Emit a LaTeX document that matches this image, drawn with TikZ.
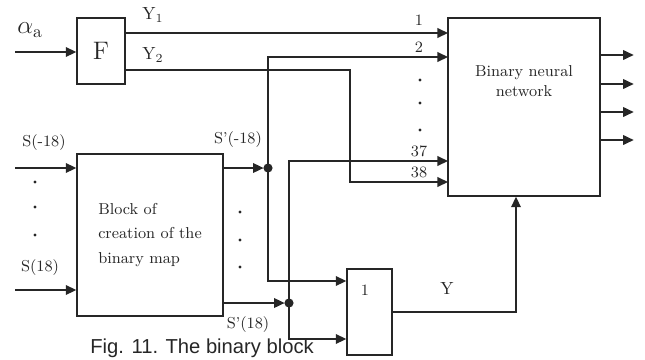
\documentclass[tikz,border=0pt]{standalone}
\usepackage{fontspec}
\usepackage{tikz}
\usetikzlibrary{arrows.meta,calc,positioning}
\newfontfamily\capfont{Liberation Sans}

\begin{document}
\begin{tikzpicture}[x=0.02cm, y=-0.02cm, font=\small, color=black!85,
    >={Triangle[length=6pt,width=5.5pt]}]
    \tikzset{
      blk/.style={draw, line width=0.8pt, inner sep=0pt},
      arrow/.style={->, line width=0.8pt},
      pin/.style={font=\small, inner sep=1pt},
      vdot/.style={radius=0.9pt}
    }
    \useasboundingbox (0,0) rectangle (645,359);

    % blocks
    \node[blk, minimum width=0.96cm, minimum height=1.32cm, font=\Large] (F) at (101,51) {F};
    \node[blk, minimum width=2.92cm, minimum height=3.24cm, align=left] (map) at (150,235)
      {Block of\\[3pt]creation of the\\[3pt]binary map};
    \node[blk, minimum width=3.04cm, minimum height=3.56cm] (bnn) at (524,107) {};
    \node[align=center] (bnntxt) at (524,81) {Binary neural\\network};
    \node[blk, minimum width=0.9cm, minimum height=1.72cm] (gate) at (369.5,312) {};
    \node (gatetxt) at (365,290) {1};

    % wiring points
    \coordinate (ain) at (15,52);
    \coordinate (smin) at (15,168);
    \coordinate (spin) at (15,290);
    \coordinate (in1) at (448,33);
    \coordinate (in2) at (448,57);
    \coordinate (in37) at (448,161);
    \coordinate (in38) at (448,182);
    \coordinate (bend) at (350,70);
    \coordinate (jm) at (268,168);
    \coordinate (jp) at (289,303);
    \coordinate (gin1) at (gate.west |- 0,281);
    \coordinate (gin2) at (gate.west |- 0,339);
    \coordinate (yin) at (bnn.south -| 516,0);

    \draw[arrow] (ain) -- (ain -| F.west);
    \draw[arrow] (F.east |- in1) -- (in1);
    \draw[arrow] (F.east |- bend) -- (bend) |- (in38);
    \draw[arrow] (smin) -- (smin -| map.west);
    \draw[arrow] (spin) -- (spin -| map.west);
    \draw[arrow, shorten >=2.5pt] (map.east |- jm) -- (jm);
    \draw[arrow, shorten >=2.5pt] (map.east |- jp) -- (jp);
    \fill (jm) circle[radius=2.6pt];
    \fill (jp) circle[radius=2.6pt];
    \draw[arrow] (jm) |- (in2);
    \draw[arrow] (jm) |- (gin1);
    \draw[arrow] (jp) |- (in37);
    \draw[arrow] (jp) |- (gin2);
    \draw[arrow] (gate.east) -| (yin);
    \foreach \y in {55,84,112,140}
      \draw[arrow] (bnn.east |- 0,\y) -- ++(33,0);

    % labels
    \node (alpha) at (30,30) {\Large$\alpha_{\mathrm{a}}$};
    \node[font=\normalsize] (ylab1) at (153,15) {Y$_1$};
    \node[font=\normalsize] (ylab2) at (153,55) {Y$_2$};
    \node[pin] (n1) at (419,20) {1};
    \node[pin] (n2) at (419,47) {2};
    \node[pin] (n37) at (419,151) {37};
    \node[pin] (n38) at (419,172) {38};
    \node (smlab) at (44,143) {S(-18)};
    \node (splab) at (40,268) {S(18)};
    \node (smolab) at (238,140) {S'(-18)};
    \node (spolab) at (248,325) {S'(18)};
    \node[font=\normalsize] (ylab) at (447,288) {Y};
    \node[anchor=north west, inner sep=0pt, font=\capfont\fontsize{11.5}{13}\selectfont] (cap)
      at (90,338) {Fig. 11. The binary block};

    % continuation dots
    \foreach \y in {182,207,235} \fill (35,\y) circle[vdot];
    \foreach \y in {212,240,267} \fill (240,\y) circle[vdot];
    \foreach \y in {80,103,130} \fill (420,\y) circle[vdot];
  \end{tikzpicture}
\end{document}
